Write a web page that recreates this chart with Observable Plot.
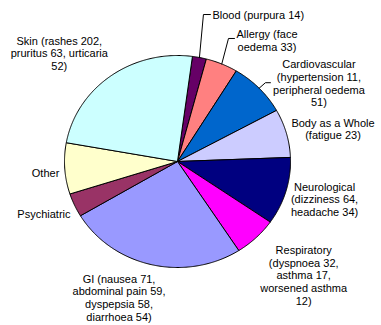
<!DOCTYPE html>
<html><head><meta charset="utf-8">
<script src="https://cdn.jsdelivr.net/npm/d3@7"></script>
<script src="https://cdn.jsdelivr.net/npm/@observablehq/plot@0.6"></script>
<style>
body{margin:0;background:#fff}
#chart svg{display:block}
</style>
</head><body><div id="chart"></div>
<script>
// ---- data (share of the pie in %) ----
const categories = ["Blood","Allergy","Cardiovascular","Body as a Whole","Neurological","Respiratory","GI","Psychiatric","Other","Skin"];
const shares = [2.0, 4.6, 8.3, 7.4, 10.3, 6.2, 25.6, 3.6, 7.8, 24.3];
const labelTexts = [
  "Blood (purpura 14)",
  "Allergy (face\noedema 33)",
  "Cardiovascular\n(hypertension 11,\nperipheral oedema\n51)",
  "Body as a Whole\n(fatigue 23)",
  "Neurological\n(dizziness 64,\nheadache 34)",
  "Respiratory\n(dyspnoea 32,\nasthma 17,\nworsened asthma\n12)",
  "GI (nausea 71,\nabdominal pain 59,\ndyspepsia 58,\ndiarrhoea 54)",
  "Psychiatric",
  "Other",
  "Skin (rashes 202,\npruritus 63, urticaria\n52)"
];
const palette = ["#660066","#FF8080","#0066CC","#CCCCFF","#000080","#FF00FF","#9999FF","#993366","#FFFFCC","#CCFFFF"];

// ---- layout ----
const W = 381, H = 325;
const margin = {left: 64, right: 91, top: 55, bottom: 58};
const RX = (W - margin.left - margin.right) / 2;
const RY = (H - margin.top - margin.bottom) / 2;
const firstSliceDeg = 7.6;
// label centre offset (px) from the slice's outer arc midpoint
const labelOffsets = {
  "Blood": [58.8, -42.5], "Allergy": [45.2, -23.5], "Cardiovascular": [59.8, -4.8],
  "Body as a Whole": [46.6, -4.2], "Neurological": [38.6, 8.1], "Respiratory": [47.7, 37.6],
  "GI": [-32.7, 32.9], "Psychiatric": [-30.6, 8.5], "Other": [-19.2, 4.1], "Skin": [-51.6, -22.5]
};
// leader lines: elbow and end offsets (px) from arc midpoint
const leaderOffsets = {
  "Blood": [[4, -43], [11, -43]],
  "Allergy": [[6.7, -25.5], [12.7, -25.5]],
  "Cardiovascular": [[6.3, -5.5], [11.3, -5.5]]
};

const pie = d3.pie().sort(null).value(d => d)
  .startAngle(firstSliceDeg * Math.PI / 180)
  .endAngle(firstSliceDeg * Math.PI / 180 + 2 * Math.PI);
const arcs = pie(shares);

const slicePts = [];
const labelData = [];
const leaderData = [];
arcs.forEach((a, i) => {
  const name = categories[i];
  slicePts.push({name, u: 0, v: 0});
  const n = Math.max(4, Math.ceil((a.endAngle - a.startAngle) / 0.01));
  for (let k = 0; k <= n; k++) {
    const t = a.startAngle + (a.endAngle - a.startAngle) * k / n;
    slicePts.push({name, u: Math.sin(t), v: Math.cos(t)});
  }
  slicePts.push({name, u: 0, v: 0});
  const m = (a.startAngle + a.endAngle) / 2;
  const mu = Math.sin(m), mv = Math.cos(m);
  const off = labelOffsets[name];
  labelData.push({name, text: labelTexts[i], u: mu + off[0] / RX, v: mv - off[1] / RY});
  const lo = leaderOffsets[name];
  if (lo) {
    leaderData.push({name, u: mu, v: mv});
    lo.forEach(p => leaderData.push({name, u: mu + p[0] / RX, v: mv - p[1] / RY}));
  }
});

const chart = Plot.plot({
  width: W, height: H,
  marginLeft: margin.left, marginRight: margin.right,
  marginTop: margin.top, marginBottom: margin.bottom,
  x: {domain: [-1, 1], axis: null},
  y: {domain: [-1, 1], axis: null},
  color: {domain: categories, range: palette},
  style: {fontFamily: "Arial, 'Liberation Sans', sans-serif", fontSize: "11px", background: "#fff", color: "#000"},
  marks: [
    Plot.line(slicePts, {x: "u", y: "v", z: "name", fill: "name", stroke: "#000", strokeWidth: 1, strokeLinejoin: "miter"}),
    Plot.line(leaderData, {x: "u", y: "v", z: "name", stroke: "#000", strokeWidth: 1}),
    Plot.text(labelData, {x: "u", y: "v", text: "text", textAnchor: "middle", lineAnchor: "middle", lineHeight: 1.15, fontSize: 11, fill: "#000"})
  ]
});
document.getElementById("chart").appendChild(chart);
</script>
</body></html>
